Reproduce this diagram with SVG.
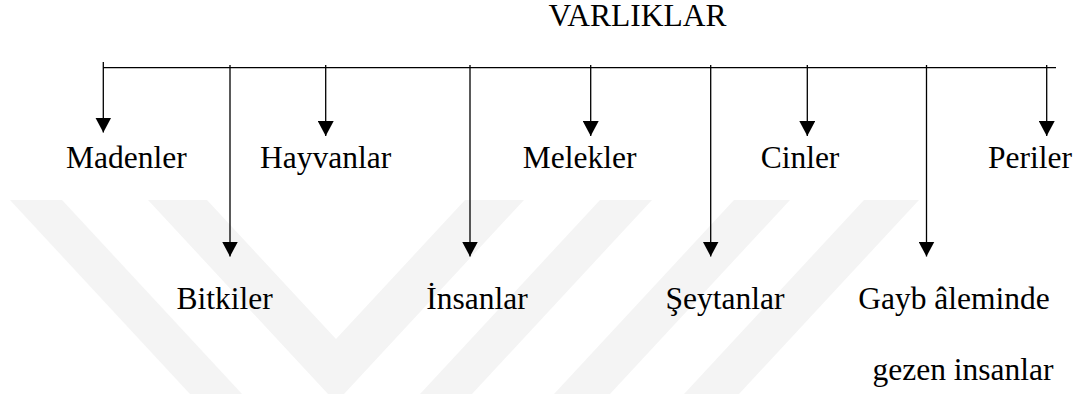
<svg xmlns="http://www.w3.org/2000/svg" width="1084" height="394" viewBox="0 0 1084 394">
<style>
.t{font-family:'Liberation Serif','DejaVu Serif',serif;font-size:31.5px;fill:#000;text-anchor:middle}
.c{stroke:#000;stroke-width:1.3;fill:none}
.a{marker-end:url(#ah)}
.wm{fill:#f4f4f4}
</style>
<defs>
<marker id="ah" markerUnits="userSpaceOnUse" markerWidth="15" markerHeight="16" viewBox="0 0 15 16" refX="15" refY="8" orient="auto">
<path d="M0,0 L15,8 L0,16 z" fill="#000"/>
</marker>
</defs>
<rect width="1084" height="394" fill="#fff"/>
<g id="watermark">
<polygon class="wm" points="10,200 62,200 242,394 190,394"/>
<polygon class="wm" points="148,200 207,200 336,339 465,200 524,200 344,394 328,394"/>
<polygon class="wm" points="600,200 652,200 472,394 420,394"/>
<polygon class="wm" points="734,200 790,200 610,394 554,394"/>
<polygon class="wm" points="864,200 919,200 739,394 684,394"/>
</g>
<g id="connectors">
<line class="c" x1="103" y1="67.7" x2="1056" y2="67.7"/>
<line class="c a" x1="103.3" y1="62" x2="103.3" y2="132.5"/>
<line class="c a" x1="325.7" y1="65" x2="325.7" y2="136"/>
<line class="c a" x1="590.7" y1="65" x2="590.7" y2="136"/>
<line class="c a" x1="807.3" y1="65" x2="807.3" y2="136"/>
<line class="c a" x1="1046.7" y1="65" x2="1046.7" y2="136"/>
<line class="c a" x1="230" y1="65" x2="230" y2="256.5"/>
<line class="c a" x1="470" y1="65" x2="470" y2="256.5"/>
<line class="c a" x1="710.7" y1="65" x2="710.7" y2="256.5"/>
<line class="c a" x1="926.5" y1="65" x2="926.5" y2="256.5"/>
</g>
<g id="varliklar"><text class="t" x="637.5" y="26">VARLIKLAR</text></g>
<g id="madenler"><text class="t" x="126.3" y="168.3">Madenler</text></g>
<g id="hayvanlar"><text class="t" x="325.6" y="168.3">Hayvanlar</text></g>
<g id="melekler"><text class="t" x="579.7" y="168.3">Melekler</text></g>
<g id="cinler"><text class="t" x="800" y="168.3">Cinler</text></g>
<g id="periler"><text class="t" x="1030" y="168.3">Periler</text></g>
<g id="bitkiler"><text class="t" x="224.7" y="309.3">Bitkiler</text></g>
<g id="insanlar"><text class="t" x="477" y="309.3">İnsanlar</text></g>
<g id="seytanlar"><text class="t" x="725" y="309.3">Şeytanlar</text></g>
<g id="gayb"><text class="t" x="954" y="309.3">Gayb âleminde</text><text class="t" x="963" y="379.5">gezen insanlar</text></g>
</svg>
